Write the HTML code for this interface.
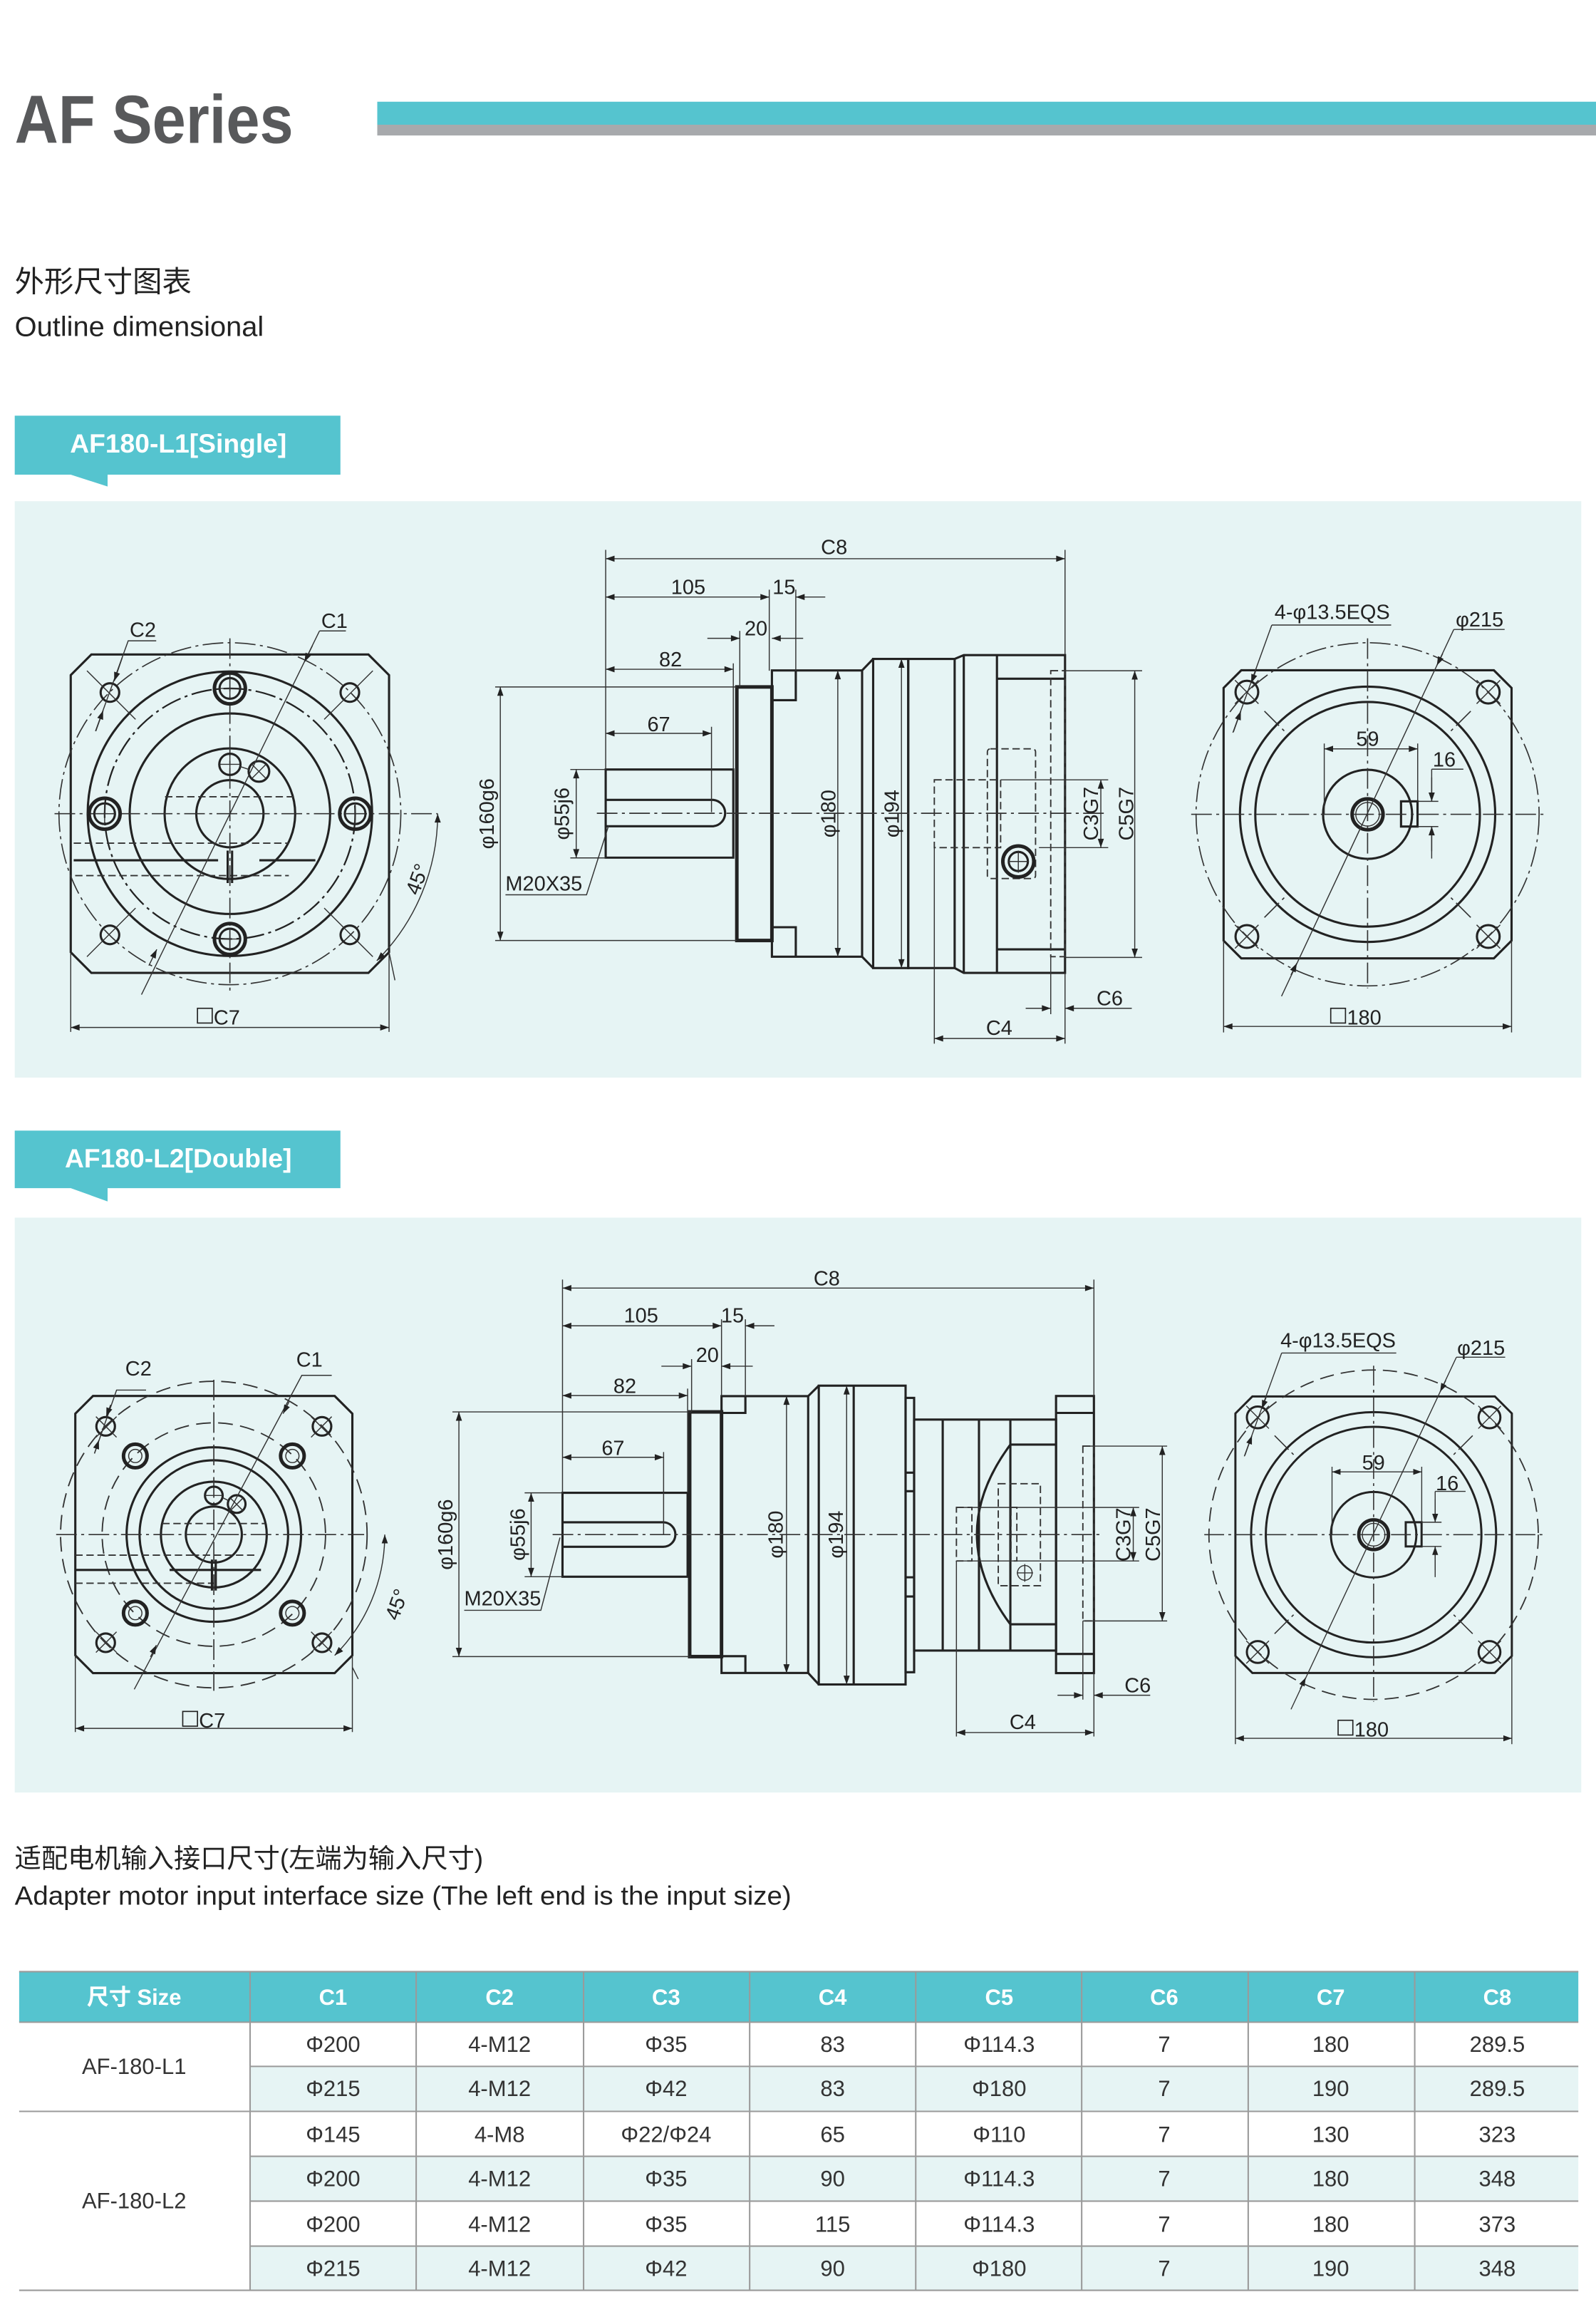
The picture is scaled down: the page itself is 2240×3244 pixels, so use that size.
<!DOCTYPE html>
<html><head><meta charset="utf-8"><style>
html,body{margin:0;padding:0;background:#fff;}
svg{display:block;}
.k{stroke:#222;stroke-width:1.5;fill:none}
.k2{stroke:#222;stroke-width:2.4;fill:none}
.t{stroke:#333;stroke-width:0.7;fill:none}
.d{stroke:#333;stroke-width:0.9;fill:none;stroke-dasharray:5 2.5}
.c{stroke:#333;stroke-width:0.8;fill:none;stroke-dasharray:14 3 2 3}
.cd{stroke:#222;stroke-width:1.1;fill:none;stroke-dasharray:14 3 2 3}
.dm{stroke:#333;stroke-width:0.7;fill:none;marker-start:url(#ar);marker-end:url(#ar)}
.de{stroke:#333;stroke-width:0.7;fill:none;marker-end:url(#ar)}
.lb{font-family:"Liberation Sans",sans-serif;font-size:14px;fill:#222}
</style></head><body>
<svg width="2240" height="3244" viewBox="0 0 1083 1568.4" xmlns="http://www.w3.org/2000/svg">
<defs>
<marker id="ar" viewBox="0 0 10 10" refX="10" refY="5" markerWidth="8" markerHeight="6" orient="auto-start-reverse" markerUnits="userSpaceOnUse"><path d="M0,1.5 L10,5 L0,8.5 Z" fill="#222"/></marker>
</defs>
<rect width="1083" height="1568.4" fill="#fff"/>
<!-- header -->
<text x="10" y="97" font-family="Liberation Sans,sans-serif" font-weight="bold" font-size="46" fill="#58595b" textLength="189" lengthAdjust="spacingAndGlyphs">AF  Series</text>
<rect x="256" y="69" width="827" height="15.6" fill="#55c4cf"/>
<rect x="256" y="84.6" width="827" height="7.3" fill="#a7a9ac"/>
<text x="10" y="198" font-family="Liberation Sans,Noto Sans CJK SC,sans-serif" font-size="20" fill="#222">外形尺寸图表</text>
<text x="10" y="228" font-family="Liberation Sans,sans-serif" font-size="19" fill="#222" textLength="169" lengthAdjust="spacingAndGlyphs">Outline dimensional</text>

<!-- tabs & panels -->
<rect x="10" y="340" width="1063" height="391" fill="#e6f4f4"/>
<rect x="10" y="826" width="1063" height="390" fill="#e6f4f4"/>
<path d="M10,282 H231 V322 H73 V330 L48,322 H10 Z" fill="#55c4cf"/>
<text x="121" y="307" text-anchor="middle" font-family="Liberation Sans,sans-serif" font-weight="bold" font-size="18" fill="#fff">AF180-L1[Single]</text>
<path d="M10,767 H231 V806 H73 V815 L48,806 H10 Z" fill="#55c4cf"/>
<text x="121" y="792" text-anchor="middle" font-family="Liberation Sans,sans-serif" font-weight="bold" font-size="18" fill="#fff">AF180-L2[Double]</text>

<!-- ========== PANEL 1 LEFT VIEW ========== -->
<g transform="translate(156,552)">
<path class="k" d="M-94,-108 H94 L108,-94 V94 L94,108 H-94 L-108,94 V-94 Z"/>
<circle class="c" r="116"/>
<circle class="k" r="96.5"/>
<circle class="cd" r="85"/>
<circle class="k" r="68"/>
<circle class="k" r="44.3"/>
<circle class="k" r="22.8"/>
<line class="c" x1="-119" y1="0" x2="141" y2="0"/>
<line class="c" x1="0" y1="-119" x2="0" y2="120"/>
<g>
<circle class="k2" cx="0" cy="-85" r="10.5"/><circle class="k" cx="0" cy="-85" r="7"/>
<circle class="k2" cx="0" cy="85" r="10.5"/><circle class="k" cx="0" cy="85" r="7"/>
<circle class="k2" cx="-85" cy="0" r="10.5"/><circle class="k" cx="-85" cy="0" r="7"/>
<circle class="k2" cx="85" cy="0" r="10.5"/><circle class="k" cx="85" cy="0" r="7"/>
<path class="t" d="M-7,-85 H7 M0,-92 V-78 M-7,85 H7 M0,78 V92 M-92,0 H-78 M-85,-7 V7 M78,0 H92 M85,-7 V7"/>
</g>
<circle class="k" cx="-81.4" cy="-82.2" r="6.3"/><circle class="k" cx="81.4" cy="-82.2" r="6.3"/>
<circle class="k" cx="-81.4" cy="82.2" r="6.3"/><circle class="k" cx="81.4" cy="82.2" r="6.3"/>
<path class="t" d="M-97,-97 L-64,-64 M97,-97 L64,-64 M-97,97 L-64,64 M97,97 L64,64"/>
<circle class="k" cx="0" cy="-33.5" r="7.2"/><path class="t" d="M-7,-33.5 H7 M0,-40 V-27"/>
<circle class="k" cx="19.7" cy="-28.7" r="7"/><path class="t" d="M14.7,-33.7 L24.7,-23.7 M24.7,-33.7 L14.7,-23.7 M7,-32 L13,-30"/>
<path class="d" d="M-44,-11.5 H44 M-106,20 H-45 M-45,20 H40 M-105,42 H40"/>
<path class="k" d="M-106,31.6 H-8 M20,31.6 H58 M-1.5,25 V47 M1.5,25 V47"/>
<line class="t" x1="-60" y1="122.7" x2="60.8" y2="-124"/><line class="t" x1="60.8" y1="-124" x2="78.7" y2="-124"/>
<line class="de" x1="56" y1="-114" x2="50.6" y2="-103"/>
<line class="de" x1="-55" y1="103" x2="-49.6" y2="92"/>
<path class="t" d="M-91.2,-56 L-69,-117.3 H-50"/>
<line class="de" x1="-73" y1="-106" x2="-78.5" y2="-90"/>
<line class="de" x1="-91" y1="-56" x2="-86" y2="-70"/>
<path class="t" d="M141,0 A141,141 0 0 1 99.7,99.7" marker-start="url(#ar)" marker-end="url(#ar)"/>
<path class="t" d="M108,94 L112,113 M-108,94 V148 M108,94 V148"/>
<line class="dm" x1="-108" y1="145" x2="108" y2="145"/>
</g>
<text class="lb" x="88" y="432">C2</text>
<text class="lb" x="218" y="426">C1</text>
<text class="lb" x="0" y="0" transform="translate(284,608) rotate(-70)">45°</text>
<rect x="134" y="684" width="10" height="10" fill="none" stroke="#222" stroke-width="0.8"/>
<text class="lb" x="145" y="695">C7</text>

<!-- ========== PANEL 1 MIDDLE VIEW ========== -->
<g>
<path class="k" d="M411,522 H497.6 V581.8 H411 Z"/>
<path class="k" d="M411,542.6 H484 A9,9 0 0 1 484,560.5 H411"/>
<rect class="k2" x="500" y="466" width="23.8" height="172"/>
<rect class="k" x="523.8" y="454.8" width="61.2" height="194.2"/>
<path class="k" d="M523.8,475 H540 V454.8 M523.8,629 H540 V649"/>
<path class="k" d="M585,454.8 L592.5,447 M585,649 L592.5,656.7"/>
<rect class="k" x="592.5" y="447" width="23.8" height="209.7"/>
<rect class="k" x="616.3" y="447" width="31.5" height="209.7"/>
<path class="k" d="M647.8,447 L654,444.4 H722.7 V660 H654 L647.8,656.7 M654,444.4 V660 M676.5,444.4 V660 M676.5,460.4 H722.7 M676.5,644 H722.7"/>
<rect class="d" x="713" y="455" width="9.7" height="194"/>
<rect class="d" x="670" y="508" width="32.7" height="88" rx="2"/>
<rect class="d" x="634" y="529" width="45" height="46"/>
<circle class="k2" cx="691" cy="584.4" r="10.5"/><circle class="k" cx="691" cy="584.4" r="6.5"/>
<path class="t" d="M684,584.4 H698 M691,577 V592"/>
<line class="c" x1="405" y1="551.7" x2="752" y2="551.7"/>
<!-- dims -->
<path class="t" d="M411,373 V522 M722.7,373 V444 M522,400 V455 M540,400 V455 M502,428 V466 M497.6,450 V522 M482.8,493 V551"/>
<line class="dm" x1="411" y1="379" x2="722.7" y2="379"/>
<line class="dm" x1="411" y1="405" x2="522" y2="405"/>
<line class="de" x1="560" y1="405" x2="540" y2="405"/>
<line class="de" x1="480" y1="433" x2="502" y2="433"/>
<line class="de" x1="545" y1="433" x2="523.8" y2="433"/>
<line class="dm" x1="411" y1="454" x2="497.6" y2="454"/>
<line class="dm" x1="411" y1="497.5" x2="482.8" y2="497.5"/>
<path class="t" d="M336,466 H500 M336,638 H500 M387,522 H411 M387,582 H411"/>
<line class="dm" x1="339.5" y1="466" x2="339.5" y2="638"/>
<line class="dm" x1="391" y1="522" x2="391" y2="582"/>
<path class="t" d="M343,607 H398 L413,560"/>
<line class="dm" x1="568.5" y1="454.8" x2="568.5" y2="649"/>
<line class="dm" x1="611.7" y1="447" x2="611.7" y2="656.7"/>
<path class="t" d="M679,529 H752 M705,575 H752 M722.7,455 H775 M722.7,649.5 H775 M634,575 V708 M722.7,660 V708 M713,649 V688"/>
<line class="dm" x1="747" y1="529" x2="747" y2="575"/>
<line class="dm" x1="770" y1="455" x2="770" y2="649.5"/>
<line class="de" x1="696" y1="684" x2="713" y2="684"/>
<line class="de" x1="745" y1="684" x2="722.7" y2="684"/>
<path class="t" d="M745,684 H768"/>
<line class="dm" x1="634" y1="704.5" x2="722.7" y2="704.5"/>
</g>
<text class="lb" x="566" y="376" text-anchor="middle">C8</text>
<text class="lb" x="467" y="403" text-anchor="middle">105</text>
<text class="lb" x="532" y="403" text-anchor="middle">15</text>
<text class="lb" x="513" y="431" text-anchor="middle">20</text>
<text class="lb" x="455" y="452" text-anchor="middle">82</text>
<text class="lb" x="447" y="496" text-anchor="middle">67</text>
<text class="lb" text-anchor="middle" transform="translate(335,552) rotate(-90)">φ160g6</text>
<text class="lb" text-anchor="middle" transform="translate(386,552) rotate(-90)">φ55j6</text>
<text class="lb" x="343" y="604">M20X35</text>
<text class="lb" text-anchor="middle" transform="translate(567,552) rotate(-90)">φ180</text>
<text class="lb" text-anchor="middle" transform="translate(610,552) rotate(-90)">φ194</text>
<text class="lb" text-anchor="middle" transform="translate(745,552) rotate(-90)">C3G7</text>
<text class="lb" text-anchor="middle" transform="translate(769,552) rotate(-90)">C5G7</text>
<text class="lb" x="753" y="682" text-anchor="middle">C6</text>
<text class="lb" x="678" y="702" text-anchor="middle">C4</text>

<!-- ========== RIGHT VIEW (defined in group) ========== -->
<g id="rv1" transform="translate(928,552.4)">
<path class="k" d="M-85.7,-97.7 H85.7 L97.7,-85.7 V85.7 L85.7,97.7 H-85.7 L-97.7,85.7 V-85.7 Z"/>
<circle class="c" r="116.4"/>
<circle class="k" r="86.6"/>
<circle class="k" r="76.2"/>
<circle class="k" r="30.2"/>
<circle class="k2" r="10.5"/><circle class="t" r="8"/>
<rect class="k" x="22.7" y="-8.8" width="11.2" height="17.1"/>
<line class="c" x1="-119.7" y1="0" x2="119.7" y2="0"/>
<line class="c" x1="0" y1="-119.4" x2="0" y2="118"/>
<circle class="k" cx="-81.9" cy="-82.9" r="7.7"/><circle class="k" cx="81.9" cy="-82.9" r="7.7"/>
<circle class="k" cx="-81.9" cy="82.9" r="7.7"/><circle class="k" cx="81.9" cy="82.9" r="7.7"/>
<path class="t" d="M-90,-91 L-74,-75 M-74,-91 L-90,-75 M90,-91 L74,-75 M74,-91 L90,-75 M-90,91 L-74,75 M-74,91 L-90,75 M90,91 L74,75 M74,91 L90,75"/>
<path class="c" d="M-70,-70 L-56,-56 M70,-70 L56,-56 M-70,70 L-56,56 M70,70 L56,56"/>
<path class="t" d="M-29.4,-48 V0 M34,-48 V-8.8 M33.9,-8.8 H48 M33.9,8.3 H48 M43.5,-30.6 H65 M43.5,-30.6 V-8.8 M43.5,8.3 V30"/>
<line class="dm" x1="-29.4" y1="-44.4" x2="34" y2="-44.4"/>
<line class="de" x1="43.5" y1="-25" x2="43.5" y2="-8.8"/>
<line class="de" x1="43.5" y1="25" x2="43.5" y2="8.3"/>
<path class="t" d="M-65,-128.4 H16 M-65,-128.4 L-91.4,-55.4 M58.5,-125.4 H93 M58.5,-125.4 L-58.4,123.4"/>
<line class="de" x1="-76" y1="-97" x2="-79" y2="-89"/>
<line class="de" x1="-91" y1="-56" x2="-86" y2="-70"/>
<line class="de" x1="51" y1="-109" x2="47" y2="-101"/>
<line class="de" x1="-52" y1="109" x2="-48" y2="101"/>
<path class="t" d="M-97.7,85.7 V148 M97.7,85.7 V148"/>
<line class="dm" x1="-97.7" y1="143.9" x2="97.7" y2="143.9"/>
</g>
<text class="lb" x="904" y="420" text-anchor="middle">4-φ13.5EQS</text>
<text class="lb" x="1004" y="425" text-anchor="middle">φ215</text>
<text class="lb" x="928" y="506" text-anchor="middle">59</text>
<text class="lb" x="980" y="520" text-anchor="middle">16</text>
<rect x="903" y="684" width="10" height="10" fill="none" stroke="#222" stroke-width="0.8"/>
<text class="lb" x="914" y="695">180</text>

<!-- ========== PANEL 2 LEFT VIEW ========== -->
<g transform="translate(145.1,1041)">
<path class="k" d="M-82,-94 H82 L94,-82 V82 L82,94 H-82 L-94,82 V-82 Z"/>
<circle class="d" r="104" style="stroke-dasharray:10 5"/>
<circle class="d" r="75.8" style="stroke-dasharray:10 5"/>
<circle class="k" r="59.2"/>
<circle class="k" r="50.4"/>
<circle class="k" r="35.9"/>
<circle class="k" r="19"/>
<line class="c" x1="-107" y1="0" x2="102" y2="0"/>
<line class="c" x1="0" y1="-105" x2="0" y2="106"/>
<circle class="k2" cx="-53.3" cy="-53.3" r="8"/><circle class="t" cx="-53.3" cy="-53.3" r="4.5"/>
<circle class="k2" cx="53.3" cy="-53.3" r="8"/><circle class="t" cx="53.3" cy="-53.3" r="4.5"/>
<circle class="k2" cx="-53.3" cy="53.3" r="8"/><circle class="t" cx="-53.3" cy="53.3" r="4.5"/>
<circle class="k2" cx="53.3" cy="53.3" r="8"/><circle class="t" cx="53.3" cy="53.3" r="4.5"/>
<circle class="k" cx="-73.4" cy="-73.4" r="6.3"/><circle class="k" cx="73.4" cy="-73.4" r="6.3"/>
<circle class="k" cx="-73.4" cy="73.4" r="6.3"/><circle class="k" cx="73.4" cy="73.4" r="6.3"/>
<path class="t" d="M-80,-80 L-66,-66 M-66,-80 L-80,-66 M80,-80 L66,-66 M66,-80 L80,-66 M-80,80 L-66,66 M-66,80 L-80,66 M80,80 L66,66 M66,80 L80,66"/>
<circle class="k" cx="0" cy="-26.5" r="6"/><path class="t" d="M-6,-26.5 H6"/>
<circle class="k" cx="15.5" cy="-20.7" r="6"/><path class="t" d="M11,-25 L20,-16 M20,-25 L11,-16 M6,-25 L10,-23"/>
<path class="d" d="M-35,-7.5 H35 M-94,14 H-15 M-15,14 H30 M-94,33 H0"/>
<path class="k" d="M-94,24 H-45 M-30,24 H32 M-1.3,17 V38 M1.3,17 V38"/>
<path class="t" d="M-54,105 L59.7,-108 H80"/>
<line class="de" x1="51" y1="-90" x2="47" y2="-82"/>
<line class="de" x1="-43" y1="83" x2="-39" y2="75"/>
<path class="t" d="M-81,-55 L-66,-98 H-46"/>
<line class="de" x1="-70" y1="-88" x2="-73" y2="-80"/>
<line class="de" x1="-81" y1="-55" x2="-78" y2="-64"/>
<path class="t" d="M116,0 A116,116 0 0 1 82,82" marker-start="url(#ar)" marker-end="url(#ar)"/>
<path class="t" d="M-94,82 V134 M94,82 V134 M94,90 L98,98"/>
<line class="dm" x1="-94" y1="131.5" x2="94" y2="131.5"/>
</g>
<text class="lb" x="85" y="933">C2</text>
<text class="lb" x="201" y="927">C1</text>
<text class="lb" transform="translate(270,1100) rotate(-70)">45°</text>
<rect x="124" y="1161" width="10" height="10" fill="none" stroke="#222" stroke-width="0.8"/>
<text class="lb" x="135" y="1172">C7</text>

<!-- ========== PANEL 2 MIDDLE VIEW ========== -->
<g>
<path class="k" d="M381.7,1012.7 H466.6 V1069.6 H381.7 Z"/>
<path class="k" d="M381.7,1032.7 H450 A8.3,8.3 0 0 1 450,1049.3 H381.7"/>
<rect class="k2" x="468" y="957.8" width="21.6" height="166"/>
<rect class="k" x="489.6" y="947.1" width="58.8" height="187.8"/>
<path class="k" d="M489.6,958.5 H505.8 V947.1 M489.6,1123.5 H505.8 V1134.9"/>
<path class="k" d="M548.4,947.1 L555.6,940 M548.4,1134.9 L555.6,1142.7"/>
<rect class="k" x="555.6" y="940" width="58.9" height="202.7"/>
<line class="k" x1="579.3" y1="940" x2="579.3" y2="1142.7"/>
<rect class="k" x="614.5" y="948.3" width="5.8" height="186.1"/>
<path class="k" d="M614.5,999 H620.3 M614.5,1011.6 H620.3 M614.5,1070 H620.3 M614.5,1083 H620.3"/>
<rect class="k" x="620.3" y="963" width="96.3" height="156.7"/>
<path class="k" d="M639.7,963 V1119.7 M664.3,963 V1119.7 M685.6,963 V1119.7"/>
<path class="k" d="M685.6,980 Q640.2,1041 685.6,1101.9 M685.6,980 H716.6 M685.6,1101.9 H716.6"/>
<rect class="k" x="716.6" y="947" width="25.7" height="188"/>
<path class="k" d="M716.6,958.5 H742.3 M716.6,1122 H742.3"/>
<rect class="d" x="734.8" y="981" width="7.5" height="118.6"/>
<rect class="d" x="649" y="1022.6" width="10.5" height="36.3"/>
<rect class="d" x="677.4" y="1006.5" width="28.6" height="69.2"/>
<rect class="d" x="686" y="1022.6" width="4" height="36.3"/>
<circle class="t" cx="695.4" cy="1067" r="5"/><path class="t" d="M690,1067 H701 M695.4,1061 V1073"/>
<line class="c" x1="375" y1="1041" x2="748" y2="1041"/>
<path class="t" d="M381.7,868 V1012.7 M742.3,868 V947 M489.6,895 V947 M505.8,895 V947 M469.3,922 V957.8 M466.6,942 V1012.7 M450.3,985 V1041"/>
<line class="dm" x1="381.7" y1="873.8" x2="742.3" y2="873.8"/>
<line class="dm" x1="381.7" y1="899.4" x2="489.6" y2="899.4"/>
<line class="de" x1="525.5" y1="899.4" x2="505.8" y2="899.4"/>
<line class="de" x1="448.8" y1="926.8" x2="469.3" y2="926.8"/>
<line class="de" x1="510.8" y1="926.8" x2="489.6" y2="926.8"/>
<line class="dm" x1="381.7" y1="946.7" x2="466.6" y2="946.7"/>
<line class="dm" x1="381.7" y1="988.6" x2="450.3" y2="988.6"/>
<path class="t" d="M307,957.8 H469 M307,1123.8 H469 M356,1012.7 H381.7 M356,1069.6 H381.7"/>
<line class="dm" x1="311.4" y1="957.8" x2="311.4" y2="1123.8"/>
<line class="dm" x1="360.4" y1="1012.7" x2="360.4" y2="1069.6"/>
<path class="t" d="M315,1092.4 H367 L380,1043"/>
<line class="dm" x1="533.7" y1="947" x2="533.7" y2="1135"/>
<line class="dm" x1="574.5" y1="940" x2="574.5" y2="1142.7"/>
<path class="t" d="M649,1022.6 H773 M649,1058.9 H773 M734.8,981 H792 M734.8,1099.6 H792 M649,1058.9 V1178 M742.3,1135 V1178 M734.8,1099.6 V1153"/>
<line class="dm" x1="769" y1="1022.6" x2="769" y2="1058.9"/>
<line class="dm" x1="788.7" y1="981" x2="788.7" y2="1099.6"/>
<line class="de" x1="717.6" y1="1150" x2="734.8" y2="1150"/>
<line class="de" x1="780.5" y1="1150" x2="742.3" y2="1150"/>
<line class="dm" x1="649" y1="1175.3" x2="742.3" y2="1175.3"/>
</g>
<text class="lb" x="561" y="872" text-anchor="middle">C8</text>
<text class="lb" x="435" y="897" text-anchor="middle">105</text>
<text class="lb" x="497" y="897" text-anchor="middle">15</text>
<text class="lb" x="480" y="924" text-anchor="middle">20</text>
<text class="lb" x="424" y="945" text-anchor="middle">82</text>
<text class="lb" x="416" y="987" text-anchor="middle">67</text>
<text class="lb" text-anchor="middle" transform="translate(307,1041) rotate(-90)">φ160g6</text>
<text class="lb" text-anchor="middle" transform="translate(356,1041) rotate(-90)">φ55j6</text>
<text class="lb" x="315" y="1089">M20X35</text>
<text class="lb" text-anchor="middle" transform="translate(531,1041) rotate(-90)">φ180</text>
<text class="lb" text-anchor="middle" transform="translate(572,1041) rotate(-90)">φ194</text>
<text class="lb" text-anchor="middle" transform="translate(767,1041) rotate(-90)">C3G7</text>
<text class="lb" text-anchor="middle" transform="translate(787,1041) rotate(-90)">C5G7</text>
<text class="lb" x="772" y="1148" text-anchor="middle">C6</text>
<text class="lb" x="694" y="1173" text-anchor="middle">C4</text>

<!-- ========== PANEL 2 RIGHT VIEW ========== -->
<g transform="translate(932.1,1041.1) scale(0.96)">
<path class="k" d="M-85.7,-97.7 H85.7 L97.7,-85.7 V85.7 L85.7,97.7 H-85.7 L-97.7,85.7 V-85.7 Z"/>
<circle class="d" r="116.4" style="stroke-dasharray:10 5"/>
<circle class="k" r="86.6"/>
<circle class="k" r="76.2"/>
<circle class="k" r="30.2"/>
<circle class="k2" r="10.5"/><circle class="t" r="8"/>
<rect class="k" x="22.7" y="-8.8" width="11.2" height="17.1"/>
<line class="c" x1="-119.7" y1="0" x2="119.7" y2="0"/>
<line class="c" x1="0" y1="-119.4" x2="0" y2="118"/>
<circle class="k" cx="-81.9" cy="-82.9" r="7.7"/><circle class="k" cx="81.9" cy="-82.9" r="7.7"/>
<circle class="k" cx="-81.9" cy="82.9" r="7.7"/><circle class="k" cx="81.9" cy="82.9" r="7.7"/>
<path class="t" d="M-90,-91 L-74,-75 M-74,-91 L-90,-75 M90,-91 L74,-75 M74,-91 L90,-75 M-90,91 L-74,75 M-74,91 L-90,75 M90,91 L74,75 M74,91 L90,75"/>
<path class="c" d="M-70,-70 L-56,-56 M70,-70 L56,-56 M-70,70 L-56,56 M70,70 L56,56"/>
<path class="t" d="M-29.4,-48 V0 M34,-48 V-8.8 M33.9,-8.8 H48 M33.9,8.3 H48 M43.5,-30.6 H65 M43.5,-30.6 V-8.8 M43.5,8.3 V30"/>
<line class="dm" x1="-29.4" y1="-44.4" x2="34" y2="-44.4"/>
<line class="de" x1="43.5" y1="-25" x2="43.5" y2="-8.8"/>
<line class="de" x1="43.5" y1="25" x2="43.5" y2="8.3"/>
<path class="t" d="M-65,-128.4 H16 M-65,-128.4 L-91.4,-55.4 M58.5,-125.4 H93 M58.5,-125.4 L-58.4,123.4"/>
<line class="de" x1="-76" y1="-97" x2="-79" y2="-89"/>
<line class="de" x1="-91" y1="-56" x2="-86" y2="-70"/>
<line class="de" x1="51" y1="-109" x2="47" y2="-101"/>
<line class="de" x1="-52" y1="109" x2="-48" y2="101"/>
<path class="t" d="M-97.7,85.7 V148 M97.7,85.7 V148"/>
<line class="dm" x1="-97.7" y1="143.9" x2="97.7" y2="143.9"/>
</g>
<text class="lb" x="908" y="914" text-anchor="middle">4-φ13.5EQS</text>
<text class="lb" x="1005" y="919" text-anchor="middle">φ215</text>
<text class="lb" x="932" y="997" text-anchor="middle">59</text>
<text class="lb" x="982" y="1011" text-anchor="middle">16</text>
<rect x="908" y="1167" width="10" height="10" fill="none" stroke="#222" stroke-width="0.8"/>
<text class="lb" x="919" y="1178">180</text>

<!-- ========== BOTTOM TEXT ========== -->
<text x="10" y="1267" font-family="Liberation Sans,Noto Sans CJK SC,sans-serif" font-size="18" fill="#222">适配电机输入接口尺寸(左端为输入尺寸)</text>
<text x="10" y="1292" font-family="Liberation Sans,sans-serif" font-size="18" fill="#222" textLength="527" lengthAdjust="spacingAndGlyphs">Adapter motor input interface size (The left end is the input size)</text>

<!-- ========== TABLE ========== -->
<g font-family="Liberation Sans,Noto Sans CJK SC,sans-serif" font-size="15" text-anchor="middle">
<rect x="13" y="1337.5" width="1058" height="34.3" fill="#55c4cf"/>
<rect x="169.7" y="1401.8" width="901.3" height="30.5" fill="#e6f4f4"/>
<rect x="169.7" y="1462.8" width="901.3" height="30.4" fill="#e6f4f4"/>
<rect x="169.7" y="1523.7" width="901.3" height="30" fill="#e6f4f4"/>
<g stroke="#9a9a9a" stroke-width="1">
<line x1="13" y1="1337.5" x2="1071" y2="1337.5"/>
<line x1="13" y1="1371.8" x2="1071" y2="1371.8"/>
<line x1="169.7" y1="1401.8" x2="1071" y2="1401.8"/>
<line x1="13" y1="1432.3" x2="1071" y2="1432.3"/>
<line x1="169.7" y1="1462.8" x2="1071" y2="1462.8"/>
<line x1="169.7" y1="1493.2" x2="1071" y2="1493.2"/>
<line x1="169.7" y1="1523.7" x2="1071" y2="1523.7"/>
<line x1="13" y1="1553.7" x2="1071" y2="1553.7"/>
<path d="M169.7,1337.5 V1553.7 M282.4,1337.5 V1553.7 M396,1337.5 V1553.7 M508.7,1337.5 V1553.7 M621.4,1337.5 V1553.7 M734,1337.5 V1553.7 M847,1337.5 V1553.7 M960,1337.5 V1553.7"/>
</g>
<g fill="#fff" font-weight="bold">
<text x="91" y="1360">尺寸 Size</text><text x="226" y="1360">C1</text><text x="339" y="1360">C2</text><text x="452" y="1360">C3</text><text x="565" y="1360">C4</text><text x="678" y="1360">C5</text><text x="790" y="1360">C6</text><text x="903" y="1360">C7</text><text x="1016" y="1360">C8</text>
</g>
<g fill="#333">
<text x="91" y="1407">AF-180-L1</text>
<text x="91" y="1498">AF-180-L2</text>
<text x="226" y="1392">Φ200</text><text x="339" y="1392">4-M12</text><text x="452" y="1392">Φ35</text><text x="565" y="1392">83</text><text x="678" y="1392">Φ114.3</text><text x="790" y="1392">7</text><text x="903" y="1392">180</text><text x="1016" y="1392">289.5</text>
<text x="226" y="1422">Φ215</text><text x="339" y="1422">4-M12</text><text x="452" y="1422">Φ42</text><text x="565" y="1422">83</text><text x="678" y="1422">Φ180</text><text x="790" y="1422">7</text><text x="903" y="1422">190</text><text x="1016" y="1422">289.5</text>
<text x="226" y="1453">Φ145</text><text x="339" y="1453">4-M8</text><text x="452" y="1453">Φ22/Φ24</text><text x="565" y="1453">65</text><text x="678" y="1453">Φ110</text><text x="790" y="1453">7</text><text x="903" y="1453">130</text><text x="1016" y="1453">323</text>
<text x="226" y="1483">Φ200</text><text x="339" y="1483">4-M12</text><text x="452" y="1483">Φ35</text><text x="565" y="1483">90</text><text x="678" y="1483">Φ114.3</text><text x="790" y="1483">7</text><text x="903" y="1483">180</text><text x="1016" y="1483">348</text>
<text x="226" y="1514">Φ200</text><text x="339" y="1514">4-M12</text><text x="452" y="1514">Φ35</text><text x="565" y="1514">115</text><text x="678" y="1514">Φ114.3</text><text x="790" y="1514">7</text><text x="903" y="1514">180</text><text x="1016" y="1514">373</text>
<text x="226" y="1544">Φ215</text><text x="339" y="1544">4-M12</text><text x="452" y="1544">Φ42</text><text x="565" y="1544">90</text><text x="678" y="1544">Φ180</text><text x="790" y="1544">7</text><text x="903" y="1544">190</text><text x="1016" y="1544">348</text>
</g>
</g>
</svg>
</body></html>
